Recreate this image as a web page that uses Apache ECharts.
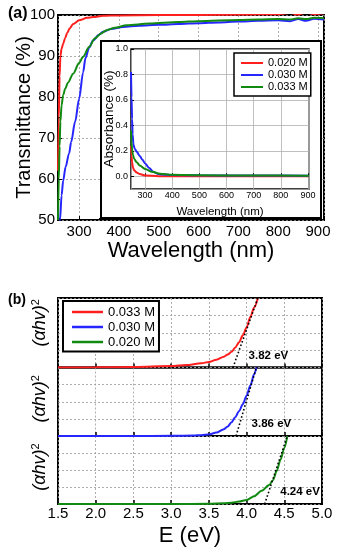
<!DOCTYPE html>
<html><head><meta charset="utf-8">
<script src="https://cdn.jsdelivr.net/npm/echarts@6/dist/echarts.min.js"></script>
<style>html,body{margin:0;padding:0;background:#fff}#c{width:342px;height:550px}</style>
</head><body><div id="c"></div>
<script>
// ---------- Panel (a): transmittance (main) ----------
const redMainX   = [247, 249, 251, 253, 256, 260, 265, 270, 276, 285, 300, 320, 335, 360, 400, 500, 600, 700, 750, 800, 830, 850, 870, 890, 915];
const redMainY   = [62, 75, 85, 90, 91.8, 93, 94.4, 95.6, 96.7, 97.8, 98.7, 99.3, 99.5, 99.8, 99.9, 100, 100, 100.1, 100.2, 100.2, 100.5, 100.1, 100.6, 100.2, 100.4];
const blueMainX  = [247, 252, 256, 260, 266, 275, 280, 290, 300, 310, 316, 325, 335, 350, 360, 380, 410, 450, 500, 550, 600, 650, 700, 750, 800, 830, 850, 870, 890, 915];
const blueMainY  = [44, 50, 56, 59.6, 62.9, 66.3, 69, 74, 79.5, 86, 89.5, 92, 93.8, 95.2, 95.9, 96.6, 97.1, 97.4, 97.6, 97.8, 98, 98.2, 98.4, 98.6, 98.7, 98.5, 99, 98.6, 99.1, 98.9];
const greenMainX = [247, 249, 251, 253, 256, 260, 265, 272, 285, 300, 310, 325, 340, 355, 369, 390, 419, 477, 550, 600, 700, 750, 800, 830, 850, 870, 890, 915];
const greenMainY = [50, 60, 68, 74, 78, 80.5, 82, 83.5, 85.7, 88.3, 89.8, 92.2, 94.3, 95.5, 96.3, 96.9, 97.5, 97.9, 98.3, 98.5, 98.8, 98.9, 99, 98.9, 99.2, 99, 99.3, 99.2];

// ---------- Panel (a) inset: absorbance ----------
const redInsX   = [248, 250, 252, 255, 260, 269, 280, 300, 350, 400, 500, 600, 700, 800, 904];
const redInsY   = [0.24, 0.16, 0.11, 0.07, 0.045, 0.03, 0.018, 0.006, 0.001, 0, 0, 0, 0, 0, 0];
const blueInsX  = [248, 250, 252, 254, 257, 262, 270, 280, 290, 300, 315, 330, 345, 365, 400, 500, 700, 904];
const blueInsY  = [0.82, 0.62, 0.45, 0.33, 0.25, 0.215, 0.19, 0.16, 0.13, 0.1, 0.065, 0.035, 0.02, 0.013, 0.01, 0.008, 0.006, 0.004];
const greenInsX = [248, 250, 252, 255, 260, 269, 280, 300, 325, 355, 400, 500, 700, 904];
const greenInsY = [0.36, 0.27, 0.21, 0.17, 0.135, 0.11, 0.085, 0.058, 0.035, 0.02, 0.012, 0.008, 0.006, 0.005];
const insetNames = ['0.020 M', '0.030 M', '0.033 M'];

// ---------- Panel (b): Tauc plots ----------
const redTaucE   = [1.5, 2.0, 2.5, 3.0, 3.2, 3.4, 3.5, 3.6, 3.7, 3.75, 3.8, 3.85, 3.9, 3.95, 4.0, 4.05, 4.1, 4.15];
const redTaucY   = [0, 0.01, 0.03, 0.08, 0.14, 0.24, 0.32, 0.45, 0.62, 0.75, 0.9, 1.15, 1.45, 1.85, 2.3, 2.9, 3.45, 4.0];
const blueTaucE  = [1.5, 2.5, 3.0, 3.3, 3.4, 3.5, 3.6, 3.7, 3.75, 3.8, 3.85, 3.9, 3.95, 4.0, 4.05, 4.1, 4.13];
const blueTaucY  = [0, 0, 0.01, 0.03, 0.05, 0.09, 0.2, 0.4, 0.56, 0.8, 1.1, 1.45, 1.85, 2.35, 2.95, 3.6, 4.0];
const greenTaucE = [1.5, 3.0, 3.5, 3.7, 3.8, 3.9, 4.0, 4.1, 4.2, 4.3, 4.35, 4.4, 4.45, 4.5, 4.54];
const greenTaucY = [0, 0, 0.01, 0.04, 0.08, 0.14, 0.24, 0.45, 0.78, 1.12, 1.4, 1.95, 2.6, 3.3, 4.0];
const taucNames  = ['0.033 M', '0.030 M', '0.020 M'];
const bandGaps   = [3.82, 3.86, 4.24];     // eV, tangent intercepts
const tangentTop = [4.15, 4.13, 4.54];     // eV where tangent reaches top of panel
const gapLabels  = ['3.82 eV', '3.86 eV', '4.24 eV'];

// ---------- chart ----------
const FONT = 'Liberation Sans, Arial, sans-serif';
const RED = '#ff1f1f', BLUE = '#2626ff', GREEN = '#118a11';
const GRIDLINE = {lineStyle: {color: '#9a9a9a', type: [2, 2], width: 0.8}};
const zip = (xs, ys) => xs.map((x, i) => [x, ys[i]]);

const chart = echarts.init(document.getElementById('c'), null, {renderer: 'canvas'});

function lineSeries(name, color, data, xi, yi, z) {
  return {
    name, type: 'line', xAxisIndex: xi, yAxisIndex: yi, data, z,
    showSymbol: false, smooth: 0.3, smoothMonotone: 'x',
    color, lineStyle: {color, width: 2}, itemStyle: {color}, emphasis: {disabled: true}
  };
}

const taucRich = {
  i: {fontSize: 18, fontStyle: 'italic', fontFamily: FONT, color: '#000', lineHeight: 20},
  s: {fontSize: 11, fontFamily: FONT, color: '#000', verticalAlign: 'top', lineHeight: 12}
};

const bGrids = [{top: 298, height: 69.5, shift: 20}, {top: 367.5, height: 68.5, shift: 6}, {top: 436, height: 68, shift: 6}];

const option = {
  animation: false,
  textStyle: {fontFamily: FONT},
  grid: [
    {left: 58, top: 15, width: 266, height: 205, show: true, borderColor: '#000', borderWidth: 2},
    {left: 131, top: 49, width: 178, height: 140, show: true, borderColor: '#000', borderWidth: 1.5, backgroundColor: '#fff', z: 6},
    ...bGrids.map(g => ({left: 58, width: 264, top: g.top, height: g.height, show: true, borderColor: '#000', borderWidth: 2}))
  ],
  xAxis: [
    {gridIndex: 0, type: 'value', min: 247, max: 915,
     axisLine: {show: false}, axisTick: {inside: true, length: 4, lineStyle: {color: '#000'}},
     minorTick: {show: true, splitNumber: 2, length: 2, lineStyle: {color: '#000'}},
     splitLine: GRIDLINE,
     axisLabel: {fontSize: 15, color: '#000', margin: 4, showMinLabel: false, showMaxLabel: false},
     name: 'Wavelength (nm)', nameLocation: 'middle', nameGap: 20, nameMoveOverlap: false,
     nameTextStyle: {fontSize: 22, color: '#000'}},
    {gridIndex: 1, type: 'value', min: 248, max: 904, z: 7,
     axisLine: {show: false}, axisTick: {inside: true, length: 3, lineStyle: {color: '#000'}},
     splitLine: {lineStyle: {color: '#b0b0b0', width: 0.8}},
     axisLabel: {fontSize: 9, color: '#000', margin: 2, showMinLabel: false, showMaxLabel: false},
     name: 'Wavelength (nm)', nameLocation: 'middle', nameGap: 16.5, nameMoveOverlap: false,
     nameTextStyle: {fontSize: 11.5, color: '#000'}},
    ...[2, 3, 4].map(gi => ({gridIndex: gi, type: 'value', min: 1.5, max: 5.0, interval: 0.5,
     axisLine: {show: false}, axisTick: {show: true, inside: true, length: 4, lineStyle: {color: '#000', width: 1.5}},
     splitLine: GRIDLINE,
     axisLabel: gi === 4 ? {fontSize: 15, color: '#000', margin: 2, formatter: v => v.toFixed(1)} : {show: false},
     name: gi === 4 ? 'E (eV)' : '', nameLocation: 'middle', nameGap: 21, nameMoveOverlap: false,
     nameTextStyle: {fontSize: 22, color: '#000'}}))
  ],
  yAxis: [
    {gridIndex: 0, type: 'value', min: 50, max: 100, interval: 10,
     axisLine: {show: false}, axisTick: {inside: true, length: 4, lineStyle: {color: '#000'}},
     minorTick: {show: true, splitNumber: 2, length: 2, lineStyle: {color: '#000'}},
     splitLine: GRIDLINE,
     axisLabel: {fontSize: 15, color: '#000', margin: 3},
     name: 'Transmittance (%)', nameLocation: 'middle', nameGap: 24, nameMoveOverlap: false,
     nameTextStyle: {fontSize: 20, color: '#000'}},
    {gridIndex: 1, type: 'value', min: -0.1, max: 1.0, z: 7,
     axisLine: {show: false}, axisTick: {inside: true, length: 3, lineStyle: {color: '#000'}},
     splitLine: {lineStyle: {color: '#b0b0b0', width: 0.8}},
     axisLabel: {fontSize: 9, color: '#000', margin: 3, showMinLabel: false, formatter: v => v.toFixed(1)},
     name: 'Absorbance (%)', nameLocation: 'middle', nameGap: 15, nameMoveOverlap: false,
     nameTextStyle: {fontSize: 13.5, color: '#000'}},
    ...[2, 3, 4].map((gi, k) => ({gridIndex: gi, type: 'value', min: 0, max: 4, interval: 1,
     axisLine: {show: false}, axisTick: {show: false}, axisLabel: {show: false},
     splitLine: GRIDLINE,
     name: '{i|(αhv)}{s|2}', nameLocation: 'middle', nameGap: 8, nameMoveOverlap: false,
     nameTextStyle: {rich: taucRich, padding: [0, 0, 0, bGrids[k].shift]}}))
  ],
  legend: [
    {data: insetNames.map(n => 'inset|' + n), orient: 'vertical', left: 234, top: 53, z: 10,
     icon: 'rect', itemWidth: 22, itemHeight: 2, itemGap: 0,
     backgroundColor: '#fff', borderColor: '#000', borderWidth: 1.5, padding: [4, 3, 3, 7],
     formatter: n => n.split('|')[1], textStyle: {fontSize: 11, lineHeight: 12, color: '#000'}, selectedMode: false},
    {data: taucNames.map(n => 'b|' + n), orient: 'vertical', left: 63, top: 301, z: 10,
     icon: 'rect', itemWidth: 31, itemHeight: 2.5, itemGap: 0,
     backgroundColor: '#fff', borderColor: '#000', borderWidth: 2, padding: [3.5, 4, 2, 9],
     formatter: n => n.split('|')[1], textStyle: {fontSize: 13, lineHeight: 15, color: '#000'}, selectedMode: false}
  ],
  graphic: [
    {type: 'rect', z: 5, shape: {x: 101, y: 41, width: 220, height: 177}, style: {fill: '#fff', stroke: '#000', lineWidth: 2}},
    {type: 'text', left: 8, top: 6, z: 20, style: {text: '(a)', font: 'bold 16px ' + FONT, fill: '#000'}},
    {type: 'text', left: 8, top: 293, z: 20, style: {text: '(b)', font: 'bold 14px ' + FONT, fill: '#000'}}
  ],
  series: [
    lineSeries('main|0.020 M', RED, zip(redMainX, redMainY), 0, 0, 2),
    lineSeries('main|0.030 M', BLUE, zip(blueMainX, blueMainY), 0, 0, 2),
    lineSeries('main|0.033 M', GREEN, zip(greenMainX, greenMainY), 0, 0, 2),
    lineSeries('inset|' + insetNames[0], RED, zip(redInsX, redInsY), 1, 1, 8),
    lineSeries('inset|' + insetNames[1], BLUE, zip(blueInsX, blueInsY), 1, 1, 8),
    lineSeries('inset|' + insetNames[2], GREEN, zip(greenInsX, greenInsY), 1, 1, 8),
    lineSeries('b|' + taucNames[0], RED, zip(redTaucE, redTaucY), 2, 2, 3),
    lineSeries('b|' + taucNames[1], BLUE, zip(blueTaucE, blueTaucY), 3, 3, 3),
    lineSeries('b|' + taucNames[2], GREEN, zip(greenTaucE, greenTaucY), 4, 4, 3),
    ...bandGaps.map((g, i) => ({
      type: 'line', xAxisIndex: 2 + i, yAxisIndex: 2 + i, z: 4, showSymbol: false, silent: true,
      data: [[g, 0], [tangentTop[i], 4]],
      lineStyle: {color: '#000', width: 1.6, type: [1.6, 2.2]}
    })),
    ...bandGaps.map((g, i) => ({
      type: 'scatter', xAxisIndex: 2 + i, yAxisIndex: 2 + i, z: 5, silent: true,
      symbolSize: 1, itemStyle: {color: 'rgba(0,0,0,0)'},
      data: [[g + 0.2, 0.7]],
      label: {show: true, position: 'right', distance: 0, formatter: gapLabels[i],
              fontSize: 11.5, fontWeight: 'bold', color: '#000', opacity: 1}
    }))
  ]
};
chart.setOption(option);
</script></body></html>
